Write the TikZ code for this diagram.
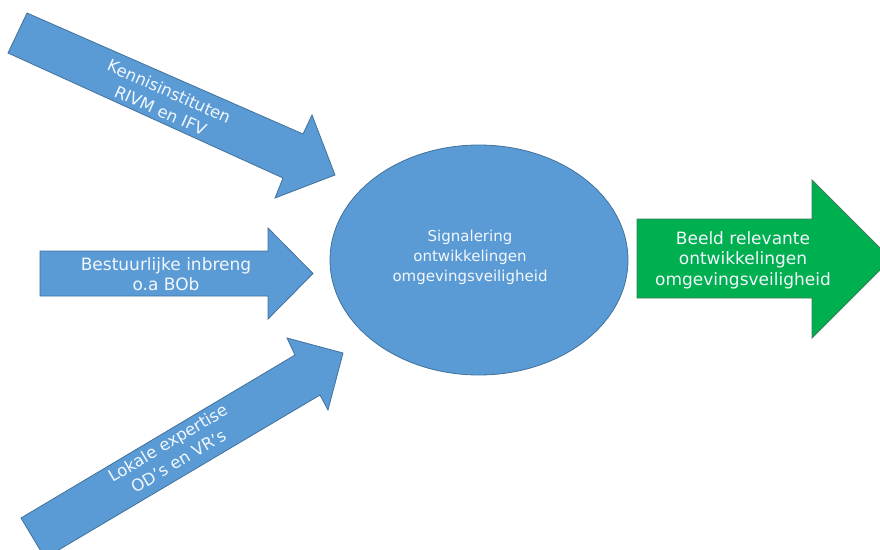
\documentclass[tikz,border=0pt]{standalone}
\usepackage{fontspec}
\setmainfont{DejaVu Sans}
\usetikzlibrary{shapes.geometric}
\definecolor{shapeblue}{HTML}{5B9BD5}
\definecolor{shapeline}{HTML}{41719C}
\definecolor{shapegreen}{HTML}{00B050}
\definecolor{greenline}{HTML}{3E7A5C}
\definecolor{lbltext}{HTML}{F2F7FC}
\tikzset{
  bluearrow/.style={fill=shapeblue, draw=shapeline, line width=0.8pt, line join=miter},
  greenarrow/.style={fill=shapegreen, draw=greenline, line width=0.8pt, line join=miter},
  lbl/.style={text=lbltext, align=center, inner sep=0pt, font=\fontsize{16.5}{21}\selectfont},
}
\begin{document}
\begin{tikzpicture}[x=1pt,y=-1pt]
\path[use as bounding box] (0,0) rectangle (880,549);
\begin{scope}
\clip (0,0) rectangle (880,549);
% arrow 1 (top, diagonal down)
\draw[bluearrow] (27,13) -- (303,134) -- (312,115) -- (335,175) -- (275,198) -- (283,178) -- (8,53) -- cycle;
% arrow 2 (horizontal)
\draw[bluearrow] (40,251) -- (268,251) -- (268,228) -- (313,273.5) -- (268,319) -- (268,296) -- (40,296) -- cycle;
% arrow 3 (bottom, diagonal up)
\draw[bluearrow] (21,518) -- (295,355) -- (287,338) -- (343,353) -- (328,410) -- (320,395) -- (45,558) -- cycle;
% central ellipse
\node[ellipse, bluearrow, minimum width=298pt, minimum height=230pt, inner sep=0pt] (signal) at (479,260) {};
% output arrow
\draw[greenarrow] (637,219) -- (812,219) -- (812,180) -- (891,259) -- (812,338) -- (812,298) -- (637,298) -- cycle;
\end{scope}
\node[lbl, rotate=-24] (kennis) at (165,101) {Kennisinstituten\\RIVM en IFV};
\node[lbl, font=\fontsize{17}{20.5}\selectfont] (bestuur) at (166,274) {Bestuurlijke inbreng\\o.a BOb};
\node[lbl, rotate=30.7] (lokaal) at (173,452) {Lokale expertise\\OD’s en VR’s};
\node[lbl, font=\fontsize{15}{20}\selectfont] (signaltext) at (470,257) {Signalering\\ontwikkelingen\\omgevingsveiligheid};
\node[lbl, font=\fontsize{17}{20.5}\selectfont] (beeld) at (743,260) {Beeld relevante\\ontwikkelingen\\omgevingsveiligheid};
\end{tikzpicture}
\end{document}
